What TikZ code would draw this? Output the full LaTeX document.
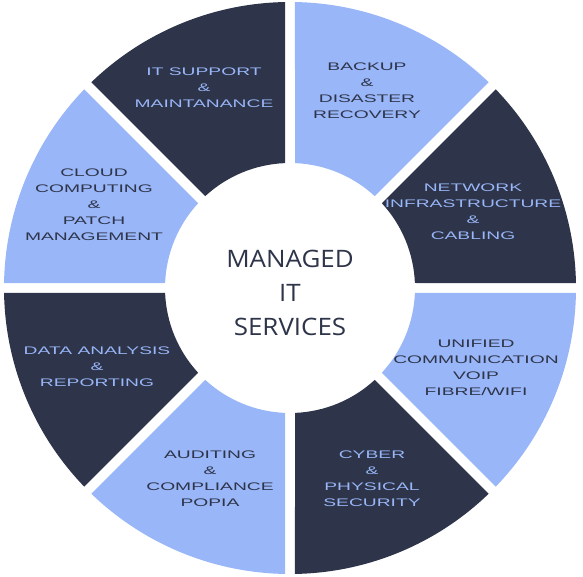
\documentclass[tikz,border=0pt]{standalone}
\usepackage{fontspec}
\setmainfont{Open Sans}
\newfontfamily\titlefont[FakeStretch=1.08]{Open Sans}
\newfontfamily\segfont[FakeStretch=1.75]{Liberation Sans}
\definecolor{navy}{HTML}{2E3449}
\definecolor{sky}{HTML}{98B6F8}
\tikzset{
  segdark/.style={fill=navy},
  seglight/.style={fill=sky},
  seglabel/.style={font=\segfont\fontsize{11}{16}\selectfont, align=center, inner sep=0pt},
  ondark/.style={seglabel, text=sky},
  onlight/.style={seglabel, text=navy},
  title/.style={font=\titlefont\fontsize{24}{34}\selectfont, align=center, text=navy, inner sep=0pt}
}
\begin{document}
\begin{tikzpicture}[x=1pt,y=1pt]
\useasboundingbox (0,0) rectangle (583,576);
\def\Ro{286}
\def\Ri{125}
\pgfmathsetmacro\dO{asin(5/286)}
\pgfmathsetmacro\dI{asin(5/125)}
\begin{scope}[shift={(290,288)}]
\foreach \a/\st in {0/segdark,45/seglight,90/segdark,135/seglight,180/segdark,225/seglight,270/segdark,315/seglight}{
  \pgfmathsetmacro\sa{\a+\dO}
  \pgfmathsetmacro\ea{\a+45-\dO}
  \pgfmathsetmacro\sb{\a+45-\dI}
  \pgfmathsetmacro\eb{\a+\dI}
  \path[\st] (\sa:\Ro) arc[start angle=\sa, end angle=\ea, radius=\Ro]
    -- (\sb:\Ri) arc[start angle=\sb, end angle=\eb, radius=\Ri] -- cycle;
}
\end{scope}
\node[title] (center) at (290,283) {MANAGED\\IT\\SERVICES};
\node[ondark] (itsupport) at (204,488) {IT SUPPORT\\\&\\MAINTANANCE};
\node[onlight] (backup) at (367,485) {BACKUP\\\&\\DISASTER\\RECOVERY};
\node[ondark] (network) at (473,364) {NETWORK\\INFRASTRUCTURE\\\&\\CABLING};
\node[onlight] (unified) at (476,208.5) {UNIFIED\\COMMUNICATION\\VOIP\\FIBRE/WIFI};
\node[ondark] (cyber) at (372,97) {CYBER\\\&\\PHYSICAL\\SECURITY};
\node[onlight] (auditing) at (210,97) {AUDITING\\\&\\COMPLIANCE\\POPIA};
\node[ondark] (data) at (97,209) {DATA ANALYSIS\\\&\\REPORTING};
\node[onlight] (cloud) at (94,371) {CLOUD\\COMPUTING\\\&\\PATCH\\MANAGEMENT};
\end{tikzpicture}
\end{document}
